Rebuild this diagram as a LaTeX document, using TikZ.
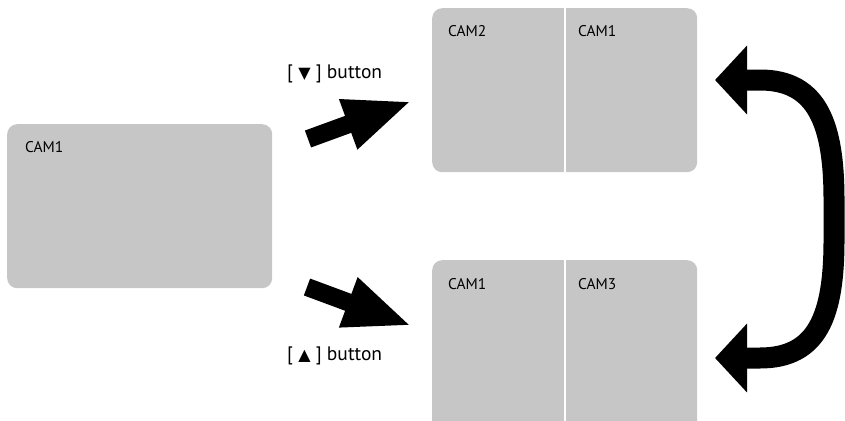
\documentclass[tikz,border=0pt]{standalone}
\usepackage{fontspec}
\setmainfont{PT Sans}
\newfontfamily\symfont{DejaVu Sans}
\usetikzlibrary{arrows.meta}
\definecolor{scrgray}{HTML}{C6C6C6}
\newcommand{\camfont}{\fontsize{15.5}{18}\selectfont}
\newcommand{\keyfont}{\fontsize{19.5}{22}\selectfont}
\newcommand{\keysym}[1]{{\symfont\fontsize{16}{18}\selectfont #1}}
\begin{document}
\begin{tikzpicture}[x=1pt, y=-1pt,
  screen/.style={fill=scrgray, rounded corners=10pt, anchor=north west, inner sep=0pt,
    minimum width=265pt, minimum height=164pt},
  cam/.style={anchor=base west, font=\camfont, inner sep=0pt},
  key/.style={anchor=base west, font=\keyfont, inner sep=0pt},
  blockarrow/.style={line width=18pt, -{Triangle[length=68pt,width=48pt]}},
  swaparrow/.style={line width=21pt, {Triangle[length=32pt,width=67pt]}-{Triangle[length=32pt,width=67pt]}}]
  \useasboundingbox (0,0) rectangle (845,420);
  % screens
  \node[screen] (single) at (7,124) {};
  \node[screen, minimum width=265pt] (split1) at (432,8) {};
  \node[screen, minimum height=175pt] (split2) at (432,260) {};
  \draw[white, line width=2pt] (split1.north) -- (split1.south);
  \draw[white, line width=2pt] (split2.north) -- (split2.south);
  \node[cam] at (25,152) {CAM1};
  \node[cam] at (448,37) {CAM2};
  \node[cam] at (578,37) {CAM1};
  \node[cam] at (448,289) {CAM1};
  \node[cam] at (578,289) {CAM3};
  % buttons
  \node[key] (down) at (287,78) {[ \keysym{▼} ] button};
  \node[key] (up) at (287,360) {[ \keysym{▲} ] button};
  \coordinate (t1) at (308,139); \coordinate (h1) at (412,101);
  \coordinate (t2) at (307,287); \coordinate (h2) at (412,326);
  \draw[blockarrow] (t1) -- (h1);
  \draw[blockarrow] (t2) -- (h2);
  % swap between the two split views
  \coordinate (s1) at (715,80); \coordinate (s2) at (715,358);
  \draw[swaparrow] (s1) -- (760,80) .. controls (818,80) and (834,125) .. (834,200)
    -- (834,240) .. controls (834,315) and (818,358) .. (760,358) -- (s2);
\end{tikzpicture}
\end{document}
